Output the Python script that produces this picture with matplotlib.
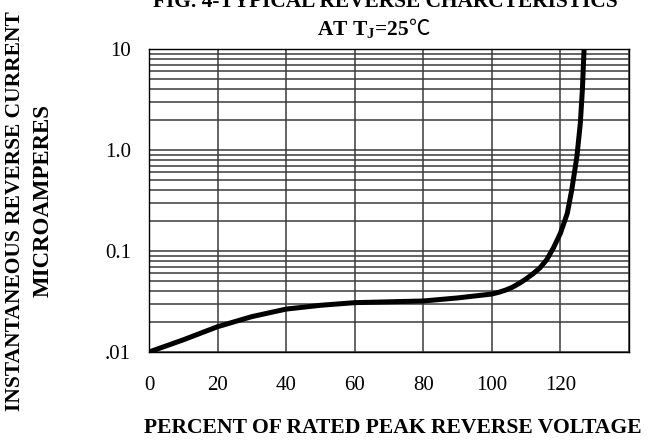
import numpy as np
import matplotlib
matplotlib.use("Agg")
import matplotlib.pyplot as plt
from matplotlib.ticker import FixedLocator, LogLocator, NullFormatter

# ---------------------------------------------------------------
# Dữ liệu đọc từ đồ thị (FIG. 4 - đặc tuyến ngược điển hình)
# ---------------------------------------------------------------
pct_voltage = [0, 10, 20, 30, 40, 50, 60, 70, 80, 90, 100, 102, 104,
               106, 108, 110, 112, 114, 116, 118, 120, 122, 123.3,
               124.8, 125.8, 126.4, 126.9]
rev_current = [0.0100, 0.0132, 0.0178, 0.0224, 0.0266, 0.0290, 0.0308,
               0.0314, 0.0320, 0.0343, 0.0375, 0.0390, 0.0410, 0.0438,
               0.0478, 0.0530, 0.0595, 0.0680, 0.0820, 0.108, 0.150,
               0.236, 0.402, 0.859, 1.84, 3.93, 10.0]

x_ticks = [0, 20, 40, 60, 80, 100, 120]
x_tick_labels = ["0", "20", "40", "60", "80", "100", "120"]
y_ticks = [0.01, 0.1, 1.0, 10]
y_tick_labels = [".01", "0.1", "1.0", "10"]

plt.rcParams.update({
    "font.family": ["Liberation Serif", "DejaVu Serif"],
    "mathtext.fontset": "custom",
    "mathtext.rm": "Liberation Serif",
    "mathtext.bf": "Liberation Serif:bold",
})

W, H = 658, 440
fig = plt.figure(figsize=(W / 100, H / 100), dpi=100)
ax = fig.add_axes([149 / W, 1 - 352 / H, (629 - 149) / W, (352 - 49) / H])

ax.plot(pct_voltage, rev_current, color="black", linewidth=3.6,
        solid_capstyle="butt", solid_joinstyle="round", zorder=3)

ax.set_yscale("log")
ax.set_xlim(0, 140)
ax.set_ylim(0.01, 10)

# lưới: đường dọc mỗi 20%, đường ngang theo log (chính + phụ)
ax.xaxis.set_major_locator(FixedLocator(x_ticks + [140]))
ax.set_xticklabels(x_tick_labels + [""])
ax.yaxis.set_major_locator(FixedLocator(y_ticks))
ax.set_yticklabels(y_tick_labels)
ax.yaxis.set_minor_locator(LogLocator(base=10, subs=np.arange(2, 10)))
ax.yaxis.set_minor_formatter(NullFormatter())
ax.grid(True, which="major", axis="both", color="#3a3a3a", linewidth=1.1)
ax.grid(True, which="minor", axis="y", color="#3a3a3a", linewidth=1.1)

ax.tick_params(which="both", length=0)
ax.tick_params(axis="x", pad=17, labelsize=15)
ax.tick_params(axis="y", pad=13, labelsize=15)
for s in ax.spines.values():
    s.set_linewidth(1.0)
    s.set_color("black")

# tiêu đề (dòng 1 bị cắt ở mép trên như bản gốc)
fig.text(385 / W, 1 - 7 / H, "FIG. 4-TYPICAL REVERSE CHARCTERISTICS",
         ha="center", va="baseline", fontsize=15.4, fontweight="bold")
t1 = fig.text(317 / W, 1 - 35 / H, r"AT T$_\mathbf{J}$=25",
              ha="left", va="baseline", fontsize=15.4, fontweight="bold")
fig.canvas.draw()
x_end = t1.get_window_extent().x1
fig.text(x_end / W, 1 - 35 / H, "℃", ha="left", va="baseline",
         fontsize=15.4, family=["Noto Sans CJK SC", "DejaVu Sans"])

fig.text(15 / W, 1 - 211 / H, "INSTANTANEOUS REVERSE CURRENT",
         rotation=90, ha="center", va="center", fontsize=15.5,
         fontweight="bold")
fig.text(43 / W, 1 - 200 / H, "MICROAMPERES",
         rotation=90, ha="center", va="center", fontsize=16.5,
         fontweight="bold")

fig.text(392.5 / W, 1 - 428 / H, "PERCENT OF RATED PEAK REVERSE VOLTAGE",
         ha="center", va="center", fontsize=15.6, fontweight="bold")

fig.savefig("out.png", dpi=100)
